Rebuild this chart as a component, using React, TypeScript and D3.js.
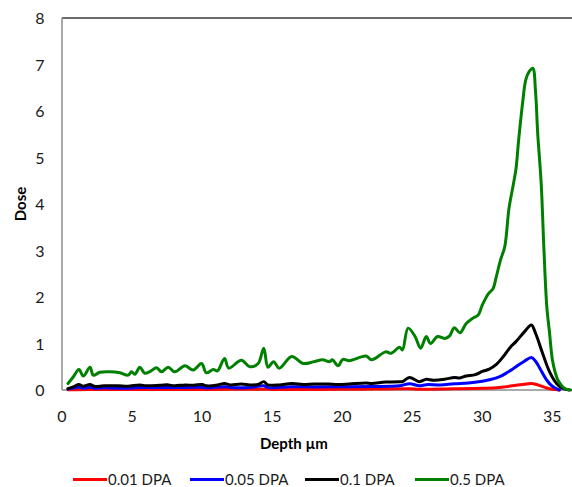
import React from "react";
import * as d3 from "d3";

const tickValuesX = [0, 5, 10, 15, 20, 25, 30, 35];
const tickValuesY = [0, 1, 2, 3, 4, 5, 6, 7, 8];
const seriesNames = ["0.01 DPA", "0.05 DPA", "0.1 DPA", "0.5 DPA"];
const seriesColors = ["#ff0000", "#0000ff", "#000000", "#008000"];

const redX = [0.43, 2.0, 5.0, 10.0, 14.4, 15.0, 20.0, 24.8, 25.5, 28.0, 30.0, 31.2, 32.4, 33.0, 33.5, 33.8, 34.1, 34.6, 35.0, 35.5];
const redY = [0.005, 0.012, 0.01, 0.012, 0.018, 0.012, 0.014, 0.027, 0.018, 0.027, 0.038, 0.055, 0.1, 0.125, 0.14, 0.125, 0.095, 0.042, 0.016, 0.0];

const blueX = [0.43, 1.2, 1.5, 2.0, 2.3, 3.0, 4.7, 5.56, 6.5, 7.6, 8.8, 10.0, 10.3, 11.6, 12.0, 13.4, 14.4, 14.7, 16.4, 18.0, 20.0, 22.0, 24.1, 24.8, 25.5, 26.0, 27.0, 28.0, 29.0, 30.0, 30.5, 31.2, 31.8, 32.4, 33.0, 33.5, 33.8, 34.1, 34.6, 35.0, 35.5];
const blueY = [0.02, 0.06, 0.04, 0.06, 0.04, 0.05, 0.04, 0.055, 0.05, 0.055, 0.055, 0.06, 0.045, 0.07, 0.055, 0.055, 0.09, 0.055, 0.07, 0.065, 0.07, 0.075, 0.09, 0.135, 0.09, 0.115, 0.11, 0.135, 0.15, 0.19, 0.22, 0.28, 0.38, 0.5, 0.62, 0.7, 0.62, 0.47, 0.21, 0.08, 0.0];

const blackX = [0.43, 0.9, 1.2, 1.5, 2.0, 2.3, 3.0, 4.0, 4.7, 5.56, 6.0, 7.0, 7.6, 8.0, 8.8, 9.4, 10.0, 10.3, 11.0, 11.6, 12.0, 12.8, 13.4, 14.0, 14.4, 14.7, 15.5, 16.4, 17.2, 18.0, 19.0, 19.7, 20.5, 21.7, 22.1, 23.1, 24.1, 24.3, 24.8, 25.5, 26.0, 26.5, 27.3, 28.0, 28.4, 28.85, 29.5, 30.0, 30.5, 31.0, 31.5, 32.0, 32.4, 33.0, 33.5, 33.8, 34.3, 34.8, 35.3, 35.7, 36.2];
const blackY = [0.03, 0.08, 0.12, 0.08, 0.12, 0.08, 0.09, 0.09, 0.08, 0.11, 0.09, 0.1, 0.11, 0.09, 0.11, 0.1, 0.12, 0.09, 0.1, 0.14, 0.11, 0.13, 0.11, 0.12, 0.18, 0.11, 0.11, 0.14, 0.12, 0.13, 0.13, 0.12, 0.13, 0.15, 0.14, 0.17, 0.18, 0.18, 0.27, 0.18, 0.23, 0.21, 0.23, 0.27, 0.26, 0.3, 0.33, 0.4, 0.45, 0.55, 0.72, 0.92, 1.04, 1.25, 1.4, 1.22, 0.79, 0.39, 0.14, 0.04, 0.0];

const greenX = [0.43, 0.8, 1.21, 1.52, 2.0, 2.23, 2.7, 3.4, 4.13, 4.73, 4.96, 5.2, 5.56, 5.9, 6.3, 6.75, 7.1, 7.58, 8.05, 8.77, 9.36, 9.96, 10.3, 10.8, 11.1, 11.6, 11.9, 12.8, 13.4, 14.0, 14.4, 14.7, 15.1, 15.5, 16.4, 17.2, 18.0, 18.6, 19.1, 19.3, 19.7, 20.05, 20.5, 21.7, 22.1, 23.1, 23.5, 24.1, 24.3, 24.7, 25.2, 25.6, 26.0, 26.3, 26.8, 27.3, 27.65, 28.0, 28.4, 28.85, 29.3, 29.7, 30.0, 30.45, 30.75, 31.0, 31.3, 31.6, 31.9, 32.2, 32.4, 32.6, 32.9, 33.1, 33.35, 33.6, 33.8, 33.95, 34.2, 34.4, 34.6, 34.8, 35.0, 35.2, 35.4, 35.85, 36.3];
const greenY = [0.14, 0.28, 0.44, 0.3, 0.49, 0.32, 0.38, 0.39, 0.37, 0.32, 0.39, 0.34, 0.49, 0.36, 0.4, 0.48, 0.39, 0.49, 0.39, 0.52, 0.43, 0.57, 0.37, 0.44, 0.41, 0.68, 0.47, 0.64, 0.5, 0.57, 0.9, 0.49, 0.61, 0.47, 0.72, 0.57, 0.61, 0.65, 0.61, 0.65, 0.52, 0.66, 0.63, 0.73, 0.65, 0.82, 0.79, 0.92, 0.86, 1.33, 1.15, 0.9, 1.15, 1.0, 1.15, 1.11, 1.16, 1.34, 1.23, 1.43, 1.54, 1.61, 1.83, 2.08, 2.17, 2.44, 2.8, 3.08, 3.9, 4.4, 4.75, 5.4, 6.24, 6.67, 6.85, 6.92, 6.4, 5.53, 4.45, 3.0, 1.8, 1.22, 0.65, 0.38, 0.21, 0.04, 0.0];

const seriesX = [redX, blueX, blackX, greenX];
const seriesY = [redY, blueY, blackY, greenY];

const W = 572;
const H = 487;
const left = 62;
const right = 572;
const top = 18;
const bottom = 390;
const FONT = "Lato, 'Liberation Sans', sans-serif";

export default function App() {
  const x = d3.scaleLinear().domain([0, 36.4]).range([left, right]);
  const y = d3.scaleLinear().domain([0, 8]).range([bottom, top]);
  const line = d3
    .line<[number, number]>()
    .x((d) => x(d[0]))
    .y((d) => y(d[1]))
    .curve(d3.curveCatmullRom.alpha(0.5));

  const legendLineX = [73, 190, 305, 415];

  return (
    <svg
      width={W}
      height={H}
      style={{ position: "absolute", left: 0, top: 0, background: "#fff" }}
      fontFamily={FONT}
    >
      <rect x={0} y={0} width={W} height={H} fill="#fff" />
      <line x1={left} x2={right} y1={top} y2={top} stroke="#3a3a3a" strokeWidth={1.3} />
      <line x1={left} x2={left} y1={top} y2={bottom} stroke="#8c8c8c" strokeWidth={1.5} />
      <line x1={left} x2={right} y1={bottom} y2={bottom} stroke="#8c8c8c" strokeWidth={1.5} />

      {tickValuesY.map((t) => (
        <text key={"y" + t} x={40} y={y(t) + 6} textAnchor="middle" fontSize={16} fill="#1a1a1a">
          {t}
        </text>
      ))}
      {tickValuesX.map((t) => (
        <text key={"x" + t} x={x(t)} y={421.5} textAnchor="middle" fontSize={16} fill="#1a1a1a">
          {t}
        </text>
      ))}

      {seriesX.map((xs, i) => {
        const pts: [number, number][] = xs.map((v, j) => [v, seriesY[i][j]]);
        return (
          <path
            key={seriesNames[i]}
            d={line(pts) || ""}
            fill="none"
            stroke={seriesColors[i]}
            strokeWidth={3}
            strokeLinejoin="round"
            strokeLinecap="round"
          />
        );
      })}

      <text x={294} y={449} textAnchor="middle" fontSize={15} fontWeight="bold" fill="#000">
        Depth µm
      </text>
      <text
        transform={`translate(25.5, ${(top + bottom) / 2}) rotate(-90)`}
        textAnchor="middle"
        fontSize={15}
        fontWeight="bold"
        fill="#000"
      >
        Dose
      </text>

      {seriesNames.map((name, i) => (
        <g key={"lg" + name}>
          <line
            x1={legendLineX[i]}
            x2={legendLineX[i] + 34}
            y1={479.5}
            y2={479.5}
            stroke={seriesColors[i]}
            strokeWidth={3}
          />
          <text x={legendLineX[i] + 35} y={485} fontSize={15} fill="#1a1a1a">
            {name}
          </text>
        </g>
      ))}
    </svg>
  );
}
